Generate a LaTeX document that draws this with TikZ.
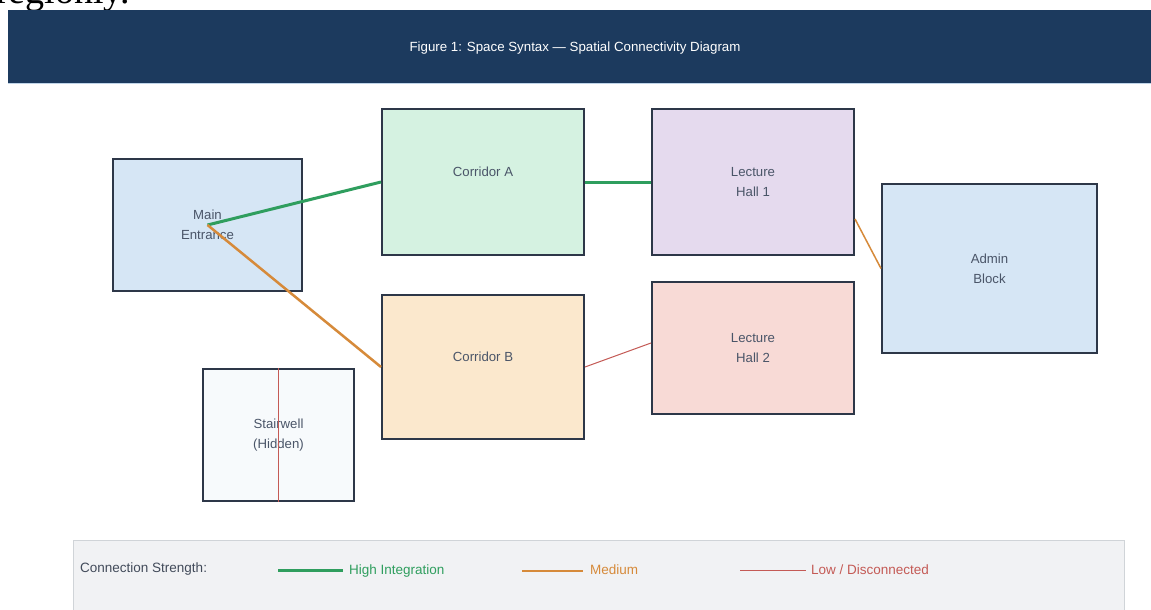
\documentclass[tikz,border=0pt]{standalone}
\usepackage{fontspec}
\setmainfont{Liberation Sans}
\newfontfamily\serifcut{Liberation Serif}
\usetikzlibrary{calc}

\definecolor{navy}{HTML}{1C3A5E}
\definecolor{rule}{HTML}{BFD4E8}
\definecolor{edge}{HTML}{2D3748}
\definecolor{ink}{HTML}{4A5568}
\definecolor{hi}{HTML}{2F9E5E}
\definecolor{mid}{HTML}{D68A3A}
\definecolor{low}{HTML}{C45A55}
\definecolor{fillblue}{HTML}{D6E6F5}
\definecolor{fillgreen}{HTML}{D5F2E1}
\definecolor{fillviolet}{HTML}{E5DAEE}
\definecolor{fillpeach}{HTML}{FBE8CD}
\definecolor{fillpink}{HTML}{F8DAD6}
\definecolor{fillpale}{HTML}{F7FAFC}
\definecolor{legbg}{HTML}{F1F2F4}
\definecolor{legedge}{HTML}{D0D4D8}

\tikzset{
  room/.style={draw=edge, line width=2pt, rectangle, inner sep=0pt,
    text=ink, align=center, font=\fontsize{13.2}{20}\selectfont},
  linkhi/.style={draw=hi, line width=3pt},
  linkmid/.style={draw=mid, line width=2.5pt},
  linkmidthin/.style={draw=mid, line width=1.5pt},
  linklow/.style={draw=low, line width=1pt},
  legtext/.style={anchor=base west, inner sep=0pt, font=\fontsize{13.5}{15}\selectfont},
}

\begin{document}
\begin{tikzpicture}[x=1pt, y=-1pt]
\useasboundingbox (0,0) rectangle (1151,610);
\clip (0,0) rectangle (1151,610);
\fill[white] (0,0) rectangle (1151,610);

% text running in from above
\node[anchor=base west, inner sep=0pt, font=\serifcut\fontsize{38}{44}\selectfont] (cut) at (-4,4) {regionly.};

% header band
\fill[navy] (8,10) rectangle (1151,83);
\draw[rule, line width=1pt] (8,83.5) -- (1151,83.5);
\node[anchor=base, inner sep=0pt, text=white, font=\fontsize{13.3}{15}\selectfont] (title) at (575,51.5)
  {Figure 1: Space Syntax — Spatial Connectivity Diagram};

% rooms
\node[room, fill=fillblue, minimum width=189pt, minimum height=132pt] (me) at (207.5,225) {Main\\Entrance};
\node[room, fill=fillgreen, minimum width=202pt, minimum height=146pt] (ca) at (483,182) {Corridor A\\\mbox{}};
\node[room, fill=fillviolet, minimum width=202pt, minimum height=146pt] (lh1) at (753,182) {Lecture\\Hall 1};
\node[room, fill=fillblue, minimum width=215pt, minimum height=169pt] (adm) at (989.5,268.5) {Admin\\Block};
\node[room, fill=fillpeach, minimum width=202pt, minimum height=144pt] (cb) at (483,367) {Corridor B\\\mbox{}};
\node[room, fill=fillpink, minimum width=202pt, minimum height=132pt] (lh2) at (753,348) {Lecture\\Hall 2};
\node[room, fill=fillpale, minimum width=151pt, minimum height=132pt] (st) at (278.5,435) {Stairwell\\(Hidden)};

% connections
\draw[linkhi] (me.center) -- (ca.west);
\draw[linkhi] (ca.east) -- (lh1.west);
\draw[linkmid] (me.center) -- (cb.west);
\draw[linkmidthin] ($(lh1.east)+(0,37)$) -- (adm.west);
\draw[linklow] (cb.east) -- ($(lh2.west)+(0,-5)$);
\draw[linklow] (st.north) -- (st.south);

% legend
\draw[fill=legbg, draw=legedge, line width=1pt] (73,540) rectangle (1124,640);
\node[legtext, text=edge!90] (lgtitle) at (80,572.5) {Connection Strength:};
\coordinate (hiA) at (278,570);
\coordinate (hiB) at (343,570);
\coordinate (midA) at (522,571);
\coordinate (midB) at (583,571);
\coordinate (lowA) at (740,570);
\coordinate (lowB) at (806,570);
\draw[linkhi] (hiA) -- (hiB);
\node[legtext, text=hi] (lghi) at (349,574) {High Integration};
\draw[linkmid] (midA) -- (midB);
\node[legtext, text=mid] (lgmid) at (590,574) {Medium};
\draw[linklow] (lowA) -- (lowB);
\node[legtext, text=low] (lglow) at (811,574) {Low / Disconnected};
\end{tikzpicture}
\end{document}
